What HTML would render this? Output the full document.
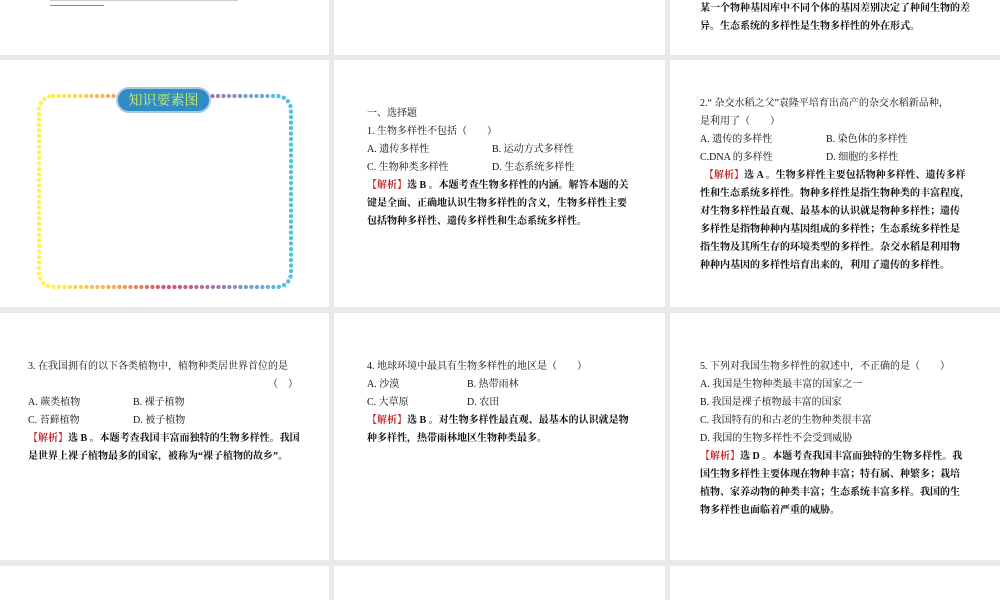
<!DOCTYPE html>
<html><head><meta charset="utf-8"><style>
body{margin:0;width:1000px;height:600px;background:#e9e9e9;position:relative;overflow:hidden;font-family:"Liberation Serif","Noto Serif CJK SC",serif;}
.p{position:absolute;background:#fff;}
.t{position:absolute;font-size:10px;color:#111;white-space:nowrap;line-height:12px;}
.a{font-weight:bold;font-family:"Liberation Serif","Noto Serif CJK SC",serif;}
.r{color:#c0282a;}
</style></head><body>
<div class="p" style="left:0;top:0;width:329px;height:55px"></div>
<div class="p" style="left:334px;top:0;width:331px;height:55px"></div>
<div class="p" style="left:670px;top:0;width:330px;height:55px"></div>
<div class="p" style="left:0;top:60px;width:329px;height:247px"></div>
<div class="p" style="left:334px;top:60px;width:331px;height:247px"></div>
<div class="p" style="left:670px;top:60px;width:330px;height:247px"></div>
<div class="p" style="left:0;top:313px;width:329px;height:247px"></div>
<div class="p" style="left:334px;top:313px;width:331px;height:247px"></div>
<div class="p" style="left:670px;top:313px;width:330px;height:247px"></div>
<div class="p" style="left:0;top:566px;width:329px;height:34px"></div>
<div class="p" style="left:334px;top:566px;width:331px;height:34px"></div>
<div class="p" style="left:670px;top:566px;width:330px;height:34px"></div>

<div style="position:absolute;left:50px;top:0;width:80px;height:1px;background:#ccc"></div>
<div style="position:absolute;left:50px;top:5px;width:54px;height:1px;background:#888"></div>
<div style="position:absolute;left:108px;top:0;width:130px;height:1px;background:#ccc"></div>
<div class="t a" style="left:700px;top:3px">某一个物种基因库中不同个体的基因差别决定了种间生物的差</div>
<div class="t a" style="left:700px;top:21px">异。生态系统的多样性是生物多样性的外在形式。</div>

<svg style="position:absolute;left:0;top:60px" width="329" height="247">
<defs><linearGradient id="g" x1="0" y1="0" x2="1" y2="0">
<stop offset="0.05" stop-color="#fff03a"/><stop offset="0.3" stop-color="#f0a040"/><stop offset="0.5" stop-color="#d83a60"/><stop offset="0.72" stop-color="#9070b0"/><stop offset="0.95" stop-color="#40b8e0"/></linearGradient></defs>
<rect x="39" y="36" width="252" height="191" rx="14" fill="none" stroke="url(#g)" stroke-width="4.3" stroke-linecap="round" stroke-dasharray="0 5.5" opacity="0.9"/>
<rect x="117" y="28" width="93" height="24" rx="12" fill="#2f8cc4" stroke="#a8cbe0" stroke-width="2"/>
<text x="163.5" y="45" font-size="14" fill="#d8f060" text-anchor="middle" font-family="Liberation Serif,Noto Serif CJK SC,serif">知识要素图</text>
</svg>

<div class="t" style="left:367px;top:108px">一、选择题</div>
<div class="t" style="left:367px;top:126px">1. 生物多样性不包括（　　）</div>
<div class="t" style="left:367px;top:144px">A. 遗传多样性</div><div class="t" style="left:492px;top:144px">B. 运动方式多样性</div>
<div class="t" style="left:367px;top:162px">C. 生物种类多样性</div><div class="t" style="left:492px;top:162px">D. 生态系统多样性</div>
<div class="t a" style="left:367px;top:180px"><span class="r">【解析】</span>选 B 。本题考查生物多样性的内涵。解答本题的关</div>
<div class="t a" style="left:367px;top:198px">键是全面、正确地认识生物多样性的含义，生物多样性主要</div>
<div class="t a" style="left:367px;top:216px">包括物种多样性、遗传多样性和生态系统多样性。</div>

<div class="t" style="left:700px;top:98px">2.“ 杂交水稻之父”袁隆平培育出高产的杂交水稻新品种，</div>
<div class="t" style="left:700px;top:116px">是利用了（　　）</div>
<div class="t" style="left:700px;top:134px">A. 遗传的多样性</div><div class="t" style="left:826px;top:134px">B. 染色体的多样性</div>
<div class="t" style="left:700px;top:152px">C.DNA 的多样性</div><div class="t" style="left:826px;top:152px">D. 细胞的多样性</div>
<div class="t a" style="left:704px;top:170px"><span class="r">【解析】</span>选 A 。生物多样性主要包括物种多样性、遗传多样</div>
<div class="t a" style="left:700px;top:188px">性和生态系统多样性。物种多样性是指生物种类的丰富程度，</div>
<div class="t a" style="left:700px;top:206px">对生物多样性最直观、最基本的认识就是物种多样性；遗传</div>
<div class="t a" style="left:700px;top:224px">多样性是指物种种内基因组成的多样性；生态系统多样性是</div>
<div class="t a" style="left:700px;top:242px">指生物及其所生存的环境类型的多样性。杂交水稻是利用物</div>
<div class="t a" style="left:700px;top:260px">种种内基因的多样性培育出来的，利用了遗传的多样性。</div>

<div class="t" style="left:28px;top:361px">3. 在我国拥有的以下各类植物中，植物种类居世界首位的是</div>
<div class="t" style="left:268px;top:379px">（　）</div>
<div class="t" style="left:28px;top:397px">A. 蕨类植物</div><div class="t" style="left:133px;top:397px">B. 裸子植物</div>
<div class="t" style="left:28px;top:415px">C. 苔藓植物</div><div class="t" style="left:133px;top:415px">D. 被子植物</div>
<div class="t a" style="left:28px;top:433px"><span class="r">【解析】</span>选 B 。本题考查我国丰富而独特的生物多样性。我国</div>
<div class="t a" style="left:28px;top:451px">是世界上裸子植物最多的国家，被称为“裸子植物的故乡”。</div>

<div class="t" style="left:367px;top:361px">4. 地球环境中最具有生物多样性的地区是（　　）</div>
<div class="t" style="left:367px;top:379px">A. 沙漠</div><div class="t" style="left:467px;top:379px">B. 热带雨林</div>
<div class="t" style="left:367px;top:397px">C. 大草原</div><div class="t" style="left:467px;top:397px">D. 农田</div>
<div class="t a" style="left:367px;top:415px"><span class="r">【解析】</span>选 B 。对生物多样性最直观、最基本的认识就是物</div>
<div class="t a" style="left:367px;top:433px">种多样性，热带雨林地区生物种类最多。</div>

<div class="t" style="left:700px;top:361px">5. 下列对我国生物多样性的叙述中，不正确的是（　　）</div>
<div class="t" style="left:700px;top:379px">A. 我国是生物种类最丰富的国家之一</div>
<div class="t" style="left:700px;top:397px">B. 我国是裸子植物最丰富的国家</div>
<div class="t" style="left:700px;top:415px">C. 我国特有的和古老的生物种类很丰富</div>
<div class="t" style="left:700px;top:433px">D. 我国的生物多样性不会受到威胁</div>
<div class="t a" style="left:700px;top:451px"><span class="r">【解析】</span>选 D 。本题考查我国丰富而独特的生物多样性。我</div>
<div class="t a" style="left:700px;top:469px">国生物多样性主要体现在物种丰富；特有属、种繁多；栽培</div>
<div class="t a" style="left:700px;top:487px">植物、家养动物的种类丰富；生态系统丰富多样。我国的生</div>
<div class="t a" style="left:700px;top:505px">物多样性也面临着严重的威胁。</div>
</body></html>
